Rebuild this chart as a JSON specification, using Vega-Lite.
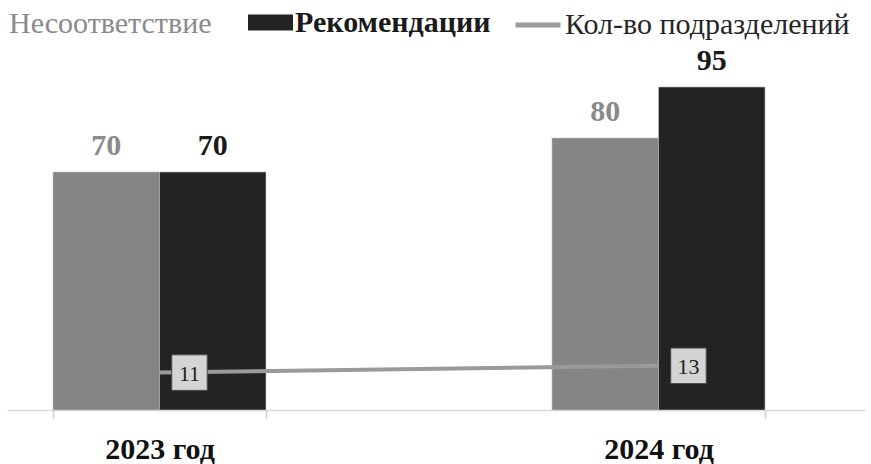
{
  "$schema": "https://vega.github.io/schema/vega-lite/v6.json",
  "width": 858,
  "height": 340,
  "autosize": {"type": "none"},
  "padding": {"left": 7, "top": 70, "right": 6, "bottom": 54},
  "background": "white",
  "config": {"view": {"stroke": null}, "font": "Liberation Serif", "legend": {"labelFont": "Liberation Serif", "labelFontSize": 30, "padding": 0, "title": null, "orient": "none", "direction": "horizontal", "labelLimit": 500, "labelOffset": 2, "symbolSize": 2025}},
  "datasets": {
    "bars": [
      {"year": "2023 год", "series": "Несоответствие", "value": 70},
      {"year": "2023 год", "series": "Рекомендации", "value": 70},
      {"year": "2024 год", "series": "Несоответствие", "value": 80},
      {"year": "2024 год", "series": "Рекомендации", "value": 95}
    ],
    "units": [
      {"year": "2023 год", "count": 11},
      {"year": "2024 год", "count": 13}
    ]
  },
  "encoding": {
    "x": {
      "field": "year",
      "type": "nominal",
      "scale": {"domain": ["2023 год", "2024 год"], "paddingInner": 0.5731, "paddingOuter": 0.14627, "align": 0.315},
      "axis": {
        "title": null,
        "labelAngle": 0,
        "labelFont": "Liberation Serif",
        "labelFontSize": 30,
        "labelFontWeight": "bold",
        "labelColor": "#111111",
        "labelBaseline": "alphabetic",
        "labelPadding": 39,
        "tickBand": "extent",
        "tickSize": 9,
        "tickColor": "#d9d9d9",
        "tickWidth": 2,
        "domainColor": "#d9d9d9",
        "domainWidth": 1.5
      }
    }
  },
  "layer": [
    {
      "data": {"name": "bars"},
      "transform": [{"filter": "datum.series === 'Несоответствие'"}],
      "mark": {"type": "bar", "stroke": "#c4c4c4", "strokeWidth": 0.6},
      "encoding": {
        "xOffset": {"field": "series", "type": "nominal", "scale": {"domain": ["Несоответствие", "Рекомендации"], "paddingInner": 0, "paddingOuter": 0}},
        "y": {"field": "value", "type": "quantitative", "scale": {"domain": [0, 100]}, "axis": null},
        "fill": {
          "field": "series",
          "type": "nominal",
          "scale": {"domain": ["Несоответствие"], "range": ["#858585"]},
          "legend": {
            "legendX": -47,
            "legendY": -70,
            "labelFont": "Liberation Serif",
            "labelFontSize": 30,
            "labelColor": "#8a8a8a",
            "symbolOpacity": 0,
            "symbolType": "square",
            "encode": {"labels": {"font": {"value": "Liberation Serif"}, "fontSize": {"value": 30}}}
          }
        }
      }
    },
    {
      "data": {"name": "bars"},
      "transform": [{"filter": "datum.series === 'Рекомендации'"}],
      "mark": {"type": "bar", "stroke": "#c4c4c4", "strokeWidth": 0.6},
      "encoding": {
        "xOffset": {"field": "series", "type": "nominal", "scale": {"domain": ["Несоответствие", "Рекомендации"], "paddingInner": 0, "paddingOuter": 0}},
        "y": {"field": "value", "type": "quantitative"},
        "color": {
          "field": "series",
          "type": "nominal",
          "scale": {"domain": ["Рекомендации"], "range": ["#232323"]},
          "legend": {
            "legendX": 241,
            "legendY": -70,
            "labelFont": "Liberation Serif",
            "labelFontSize": 30,
            "labelFontWeight": "bold",
            "labelColor": "#1a1a1a",
            "symbolType": "M-1,-0.36H1V0.36H-1Z",
            "symbolStrokeWidth": 0,
            "encode": {"labels": {"font": {"value": "Liberation Serif"}, "fontSize": {"value": 30}}}
          }
        }
      }
    },
    {
      "data": {"name": "bars"},
      "mark": {"type": "text", "font": "Liberation Serif", "fontSize": 30, "fontWeight": "bold", "baseline": "alphabetic", "dy": -17},
      "encoding": {
        "xOffset": {"field": "series", "type": "nominal", "scale": {"domain": ["Несоответствие", "Рекомендации"], "paddingInner": 0, "paddingOuter": 0}},
        "y": {"field": "value", "type": "quantitative"},
        "text": {"field": "value", "type": "quantitative"},
        "color": {"condition": {"test": "datum.series === 'Несоответствие'", "value": "#8a8a8a"}, "value": "#1a1a1a"}
      }
    },
    {
      "data": {"name": "units"},
      "mark": {"type": "line", "strokeWidth": 4},
      "encoding": {
        "y": {"field": "count", "type": "quantitative"},
        "stroke": {
          "datum": "Кол-во подразделений",
          "scale": {"domain": ["Кол-во подразделений"], "range": ["#9a9a9a"]},
          "legend": {
            "legendX": 506,
            "legendY": -70,
            "labelFont": "Liberation Serif",
            "labelFontSize": 30,
            "labelColor": "#262626",
            "symbolType": "stroke",
            "symbolStrokeWidth": 5,
            "encode": {"labels": {"font": {"value": "Liberation Serif"}, "fontSize": {"value": 30}}}
          }
        }
      }
    },
    {
      "data": {"name": "units"},
      "mark": {"type": "point", "shape": "square", "size": 1260, "filled": true, "fill": "#d4d4d4", "stroke": "#4a4a4a", "strokeWidth": 1, "opacity": 1, "xOffset": 30},
      "encoding": {
        "y": {"field": "count", "type": "quantitative"}
      }
    },
    {
      "data": {"name": "units"},
      "mark": {"type": "text", "font": "Liberation Serif", "fontSize": 22, "baseline": "middle", "dx": 30, "dy": 1, "color": "#1e1e1e"},
      "encoding": {
        "y": {"field": "count", "type": "quantitative"},
        "text": {"field": "count", "type": "quantitative"}
      }
    }
  ]
}
